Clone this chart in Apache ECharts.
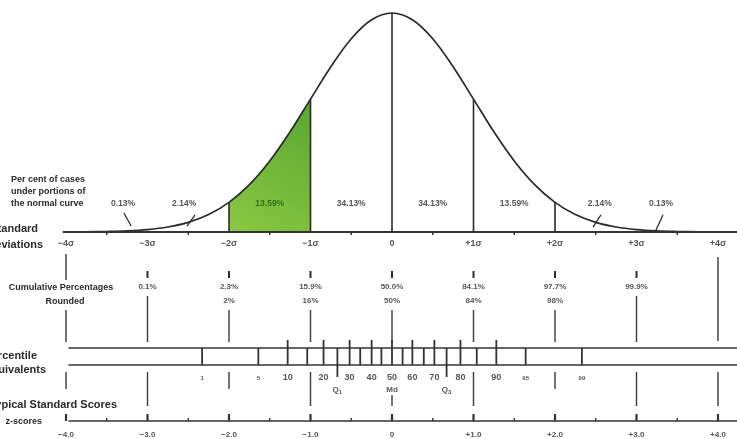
<!DOCTYPE html>
<html><head><meta charset="utf-8">
<script src="https://cdn.jsdelivr.net/npm/echarts@6/dist/echarts.min.js"></script>
<style>html,body{margin:0;padding:0;background:#fff}#c{width:737px;height:439px}</style>
</head><body><div id="c"></div>
<script>
// ---------- data ----------
const curveZ = [-4,-3.75,-3.5,-3.25,-3,-2.75,-2.5,-2.25,-2,-1.75,-1.5,-1.25,-1,-0.75,-0.5,-0.25,0,0.25,0.5,0.75,1,1.25,1.5,1.75,2,2.25,2.5,2.75,3,3.25,3.5,3.75,4,4.25];
const curveDensity = [0.0001,0.0004,0.0009,0.0020,0.0044,0.0091,0.0175,0.0317,0.0540,0.0863,0.1295,0.1826,0.2420,0.3011,0.3521,0.3867,0.3989,0.3867,0.3521,0.3011,0.2420,0.1826,0.1295,0.0863,0.0540,0.0317,0.0175,0.0091,0.0044,0.0020,0.0009,0.0004,0.0001,0.0000];
const shadedRange = [-2, -1];
const ordinateZ = [-2,-1,0,1,2];
const halfTickZ = [-3.5,-2.5,-1.5,-0.5,0.5,1.5,2.5,3.5];
const sigmaTicks = [-4,-3,-2,-1,0,1,2,3,4];
const sigmaLabels = ['\u22124\u03c3','\u22123\u03c3','\u22122\u03c3','\u22121\u03c3','0','+1\u03c3','+2\u03c3','+3\u03c3','+4\u03c3'];
const areaLabelZ = [-3.3,-2.55,-1.5,-0.5,0.5,1.5,2.55,3.3];
const areaLabels = ['0.13%','2.14%','13.59%','34.13%','34.13%','13.59%','2.14%','0.13%'];
const leaderLines = [[-3.29,0.0346,-3.20,0.0109],[-2.515,0.0109,-2.417,0.031],[2.466,0.009,2.564,0.031],[3.239,0.0036,3.325,0.031]];
const cumZ = [-3,-2,-1,0,1,2,3];
const cumLabels = ['0.1%','2.3%','15.9%','50.0%','84.1%','97.7%','99.9%'];
const roundedLabels = ['','2%','16%','50%','84%','98%',''];
const pctValues = [1,5,10,15,20,25,30,35,40,45,50,55,60,65,70,75,80,85,90,95,99];
const pctZ = [-2.33,-1.64,-1.28,-1.04,-0.84,-0.67,-0.52,-0.39,-0.25,-0.13,0,0.13,0.25,0.39,0.52,0.67,0.84,1.04,1.28,1.64,2.33];
const pctLabels = ['1','5','10','','20','','30','','40','','50','','60','','70','','80','','90','95','99'];
const quartilePct = [25,50,75];
const quartileLabels = ['Q{s|1}','Md','Q{s|3}'];
const zScoreTicks = [-4,-3,-2,-1,0,1,2,3,4];
const zScoreMinor = [-3.5,-2.5,-1.5,-0.5,0.5,1.5,2.5,3.5];
const zScoreLabels = ['\u22124.0','\u22123.0','\u22122.0','\u22121.0','0','+1.0','+2.0','+3.0','+4.0'];

// ---------- layout ----------
const PX_PER_SIGMA = 81.5, CENTER = 392, W = 737;
const X_MIN = -CENTER/PX_PER_SIGMA, X_MAX = (W-CENTER)/PX_PER_SIGMA;
const ROW = {sigmaLabel:12, cumTickTop:39, cumTickBot:46, cumLabel:55, roundLabel:69, bandTop:116, bandBot:133, tallTickTop:108, quartTickBot:145, pctLabel:146, qLabel:158, axisY:189, majTop:182, minTop:186, axisLabel:203};
const guideSegs = {
  '-4':[[22,48],[78,110],[140,157]], '-3':[[64,110],[140,174]], '-2':[[78,110],[140,157]], '-1':[[78,110],[140,174]],
  '0':[[78,110],[163,174]], '1':[[78,110],[140,174]], '2':[[78,110],[140,157]], '3':[[64,110],[140,174]], '4':[[25,109],[140,174]]
};
const INK = '#2a2a2a';
const FONT = 'Liberation Sans';

function densityAt(z){ return curveDensity[curveZ.indexOf(z)]; }
function segSeries(data, xi, lw, color, z){
  return {type:'custom', xAxisIndex:xi, yAxisIndex:xi, silent:true, z:z||4, data:data,
    renderItem:function(params, api){
      const p1 = api.coord([api.value(0), api.value(1)]);
      const p2 = api.coord([api.value(2), api.value(3)]);
      return {type:'line', shape:{x1:p1[0],y1:p1[1],x2:p2[0],y2:p2[1]}, style:{stroke:color||INK, lineWidth:lw}};
    }};
}
function labelSeries(points, names, xi, size, color, extra){
  return {type:'scatter', xAxisIndex:xi, yAxisIndex:xi, silent:true, symbolSize:1, z:6,
    itemStyle:{color:'rgba(0,0,0,0)'},
    data: points.map((p,i)=>({value:p, name:names[i]})),
    label:Object.assign({show:true, position:'inside', formatter:'{b}', fontFamily:FONT, fontWeight:'bold', fontSize:size, color:color||INK}, extra||{})};
}

const series = [];
series.push({type:'custom', xAxisIndex:0, yAxisIndex:0, silent:true, z:2, data:[shadedRange],
  renderItem:function(params, api){
    const a = api.value(0), b = api.value(1);
    const pts = [api.coord([a,0])];
    curveZ.forEach((z,i)=>{ if(z>=a-1e-9 && z<=b+1e-9) pts.push(api.coord([z, curveDensity[i]])); });
    pts.push(api.coord([b,0]));
    return {type:'polygon', shape:{points:pts}, style:{fill:{type:'linear',x:0,y:1,x2:1,y2:0,colorStops:[{offset:0,color:'#8cc842'},{offset:1,color:'#58a632'}]}}};
  }});
series.push({type:'line', xAxisIndex:0, yAxisIndex:0, silent:true, z:3, smooth:0.35, symbol:'none',
  data: curveZ.map((z,i)=>[z, curveDensity[i]]), lineStyle:{color:INK, width:1.7}});
series.push(segSeries([[-4.04,0,X_MAX,0]], 0, 2.2, '#333'));
series.push(segSeries(ordinateZ.map(z=>[z,0,z,densityAt(z)]), 0, 1.6));
series.push(segSeries(leaderLines, 0, 1.3));
const areaLab = labelSeries(areaLabelZ.map(z=>[z,0.051]), areaLabels, 0, 8.5, INK);
areaLab.data[2].label = {color:'#1f5a17'};
series.push(areaLab);

series.push(segSeries(halfTickZ.map(z=>[z,0,z,3]), 1, 1.4));
series.push(labelSeries(sigmaTicks.map(z=>[z,ROW.sigmaLabel]), sigmaLabels, 1, 9));
const guides = [];
sigmaTicks.forEach(z=>{ guideSegs[String(z)].forEach(s=>guides.push([z,s[0],z,s[1]])); });
series.push(segSeries(guides, 1, 1.4, '#3a3a3a'));
series.push(segSeries(cumZ.map(z=>[z,ROW.cumTickTop,z,ROW.cumTickBot]), 1, 2));
series.push(labelSeries(cumZ.map(z=>[z,ROW.cumLabel]), cumLabels, 1, 8));
series.push(labelSeries(cumZ.map(z=>[z,ROW.roundLabel]), roundedLabels, 1, 8));
series.push(segSeries([[-3.97,ROW.bandTop,X_MAX,ROW.bandTop],[-3.97,ROW.bandBot,X_MAX,ROW.bandBot]], 1, 1.7, '#333'));
series.push(segSeries(pctZ.map((z,i)=>{
  const v = pctValues[i];
  const top = (v%10===0) ? ROW.tallTickTop : ROW.bandTop;
  const bot = quartilePct.indexOf(v)>=0 && v!==50 ? ROW.quartTickBot : ROW.bandBot;
  return [z, top, z, bot];
}), 1, 1.8, '#333'));
const pctLab = labelSeries(pctZ.map(z=>[z,ROW.pctLabel]), pctLabels, 1, 9);
pctLab.data.forEach((d,i)=>{ if(pctValues[i]%10!==0) d.label = {fontSize:6}; });
series.push(pctLab);
series.push(labelSeries(quartilePct.map(p=>[pctZ[pctValues.indexOf(p)], ROW.qLabel]), quartileLabels, 1, 8, INK,
  {rich:{s:{fontSize:6, fontFamily:FONT, fontWeight:'bold', color:INK, padding:[5,0,0,0]}}}));
series.push(segSeries([[-3.97,ROW.axisY,X_MAX,ROW.axisY]], 1, 1.7, '#333'));
series.push(segSeries(zScoreTicks.map(z=>[z,ROW.majTop,z,ROW.axisY]), 1, 2.2, '#333'));
series.push(segSeries(zScoreMinor.map(z=>[z,ROW.minTop,z,ROW.axisY]), 1, 1.4, '#333'));
series.push(labelSeries(zScoreTicks.map(z=>[z,ROW.axisLabel]), zScoreLabels, 1, 8));

function txt(text, x, y, align, size){
  return {type:'text', x:x, y:y, silent:true, z:10, style:{text:text, font:'bold '+(size||9)+'px "Liberation Sans"', fill:INK, align:align||'left', verticalAlign:'middle'}};
}

const chart = echarts.init(document.getElementById('c'), null, {renderer:'canvas'});
chart.setOption({
  animation:false,
  backgroundColor:'#fff',
  grid:[{left:0,right:0,top:12.4,height:219.6},{left:0,right:0,top:232,height:207}],
  xAxis:[{gridIndex:0,type:'value',min:X_MIN,max:X_MAX,show:false},{gridIndex:1,type:'value',min:X_MIN,max:X_MAX,show:false}],
  yAxis:[{gridIndex:0,type:'value',min:0,max:0.4,show:false},{gridIndex:1,type:'value',min:0,max:207,inverse:true,show:false}],
  series:series,
  graphic:[
    txt('Per cent of cases', 11, 180), txt('under portions of', 11, 192), txt('the normal curve', 11, 204),
    txt('Standard', 38, 229, 'right', 11), txt('Deviations', 43, 245, 'right', 11),
    txt('Cumulative Percentages', 61, 288, 'center'), txt('Rounded', 65, 302, 'center'),
    txt('Percentile', 37, 356, 'right', 11), txt('Equivalents', 46, 370, 'right', 11),
    txt('Typical Standard Scores', 117, 405, 'right', 11), txt('z-scores', 42, 422, 'right', 9)
  ]
});
</script></body></html>
